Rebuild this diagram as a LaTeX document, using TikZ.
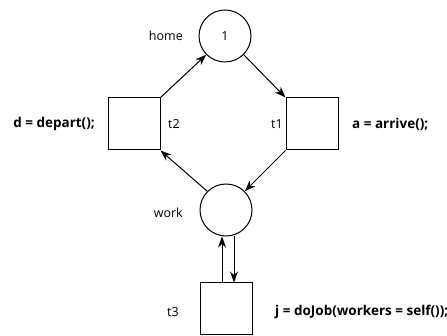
\documentclass[tikz,border=0pt]{standalone}
\usepackage{fontspec}
\setmainfont{Open Sans}
\usetikzlibrary{arrows.meta}
\begin{document}
\begin{tikzpicture}[x=1pt,y=-1pt,
  place/.style={draw,circle,minimum size=52pt,inner sep=0pt,line width=1pt},
  trans/.style={draw,rectangle,minimum size=52pt,inner sep=0pt,line width=1pt},
  lbl/.style={font=\fontsize{12.5}{14}\selectfont,inner sep=0pt},
  code/.style={font=\fontsize{13.5}{15}\selectfont\bfseries,inner sep=0pt},
  arc/.style={line width=1pt,-{Stealth[length=11pt,width=8pt,inset=3.5pt]}}]
\useasboundingbox (0,0) rectangle (447,336);
\node[place] (home) at (225,36) {\fontsize{12.5}{14}\selectfont 1};
\node[trans] (t2) at (134,124) {};
\node[trans] (t1) at (312,124) {};
\node[place] (work) at (226,210) {};
\node[trans] (t3) at (226,309) {};
\node[lbl,anchor=east] (lhome) at (183,36) {home};
\node[lbl,anchor=east] (lwork) at (183,213) {work};
\node[lbl,anchor=west] (lt2) at (168,124) {t2};
\node[lbl,anchor=east] (lt1) at (283,124) {t1};
\node[lbl,anchor=east] (lt3) at (179,312) {t3};
\node[code,anchor=east] (cd) at (95,124) {d = depart();};
\node[code,anchor=west] (ca) at (352,124) {a = arrive();};
\node[code,anchor=west] (cj) at (275,312) {j = doJob(workers = self());};
\draw[arc] (t2.north east) -- (home.225);
\draw[arc] (home.-45) -- (t1.north west);
\draw[arc] (t1.south west) -- (work.45);
\draw[arc] (work.135) -- (t2.south east);
\coordinate (t3a) at ([xshift=-4pt]t3.north);
\coordinate (t3b) at ([xshift=8pt]t3.north);
\draw[arc] (t3a) -- (t3a |- work.south);
\draw[arc] (t3b |- work.south) -- (t3b);
\end{tikzpicture}
\end{document}
